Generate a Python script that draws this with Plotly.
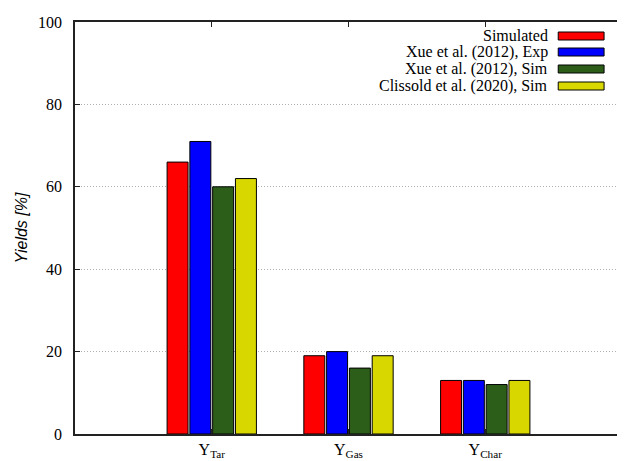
import plotly.graph_objects as go

categories = ["Y<sub>Tar</sub>", "Y<sub>Gas</sub>", "Y<sub>Char</sub>"]
series_names = ["Simulated", "Xue et al. (2012), Exp", "Xue et al. (2012), Sim", "Clissold et al. (2020), Sim"]
simulated = [66, 19, 13]
xue_exp = [71, 20, 13]
xue_sim = [60, 16, 12]
clissold_sim = [62, 19, 13]
colors = ["#ff0000", "#0000ff", "#2d5e19", "#d8d800"]
y_ticks = [0, 20, 40, 60, 80, 100]

series_values = [simulated, xue_exp, xue_sim, clissold_sim]
xpos = list(range(len(categories)))

W, H = 617, 453  # page body has an 8px margin in the 625x461 window
L, R, T, B = 67, 1, 14, 27
PW, PH = W - L - R, H - T - B

fig = go.Figure()
for name, vals, col in zip(series_names, series_values, colors):
    fig.add_trace(go.Bar(
        x=xpos, y=vals, name=name,
        marker=dict(color=col, line=dict(color="#000000", width=1)),
        showlegend=False,
    ))

serif = "Liberation Serif, Times New Roman, serif"
# custom legend: right-aligned text with swatch on the right (gnuplot style)
row_px = [14, 30, 47, 64]  # distance below plot top
for name, col, ry in zip(series_names, colors, row_px):
    yc = 1 - ry / PH
    fig.add_annotation(xref="paper", yref="paper", x=476 / PW, y=yc, text=name,
                       showarrow=False, xanchor="right", yanchor="middle", borderpad=0,
                       font=dict(family=serif, size=16, color="#000"))
    fig.add_shape(type="rect", xref="paper", yref="paper",
                  x0=485 / PW, x1=531 / PW, y0=yc - 4 / PH, y1=yc + 4 / PH,
                  fillcolor=col, line=dict(color="#000", width=1))

fig.update_layout(
    width=W, height=H,
    margin=dict(l=L, r=R, t=T, b=B),
    paper_bgcolor="white", plot_bgcolor="white",
    barmode="group", bargap=1/3, bargroupgap=0.08,
    font=dict(family=serif, size=16, color="#000"),
)
fig.update_xaxes(
    range=[-1, 3], tickvals=xpos, ticktext=categories,
    showline=True, linecolor="#222", linewidth=1.5, mirror="ticks",
    ticks="inside", ticklen=5, tickcolor="#222", showgrid=False, zeroline=False,
    tickfont=dict(family=serif, size=16),
)
fig.update_yaxes(
    range=[0, 100], tickvals=y_ticks,
    showline=True, linecolor="#222", linewidth=1.5, mirror="ticks",
    ticks="inside", ticklen=5, tickcolor="#222", ticklabelstandoff=8,
    showgrid=True, gridcolor="#b0b0b0", griddash="1px,2px", gridwidth=1, zeroline=False,
    tickfont=dict(family=serif, size=16),
    title=dict(text="<i>Yields [%]</i>", font=dict(family="Liberation Sans, Arial, sans-serif", size=16), standoff=6),
)

fig.write_html("out.html")
